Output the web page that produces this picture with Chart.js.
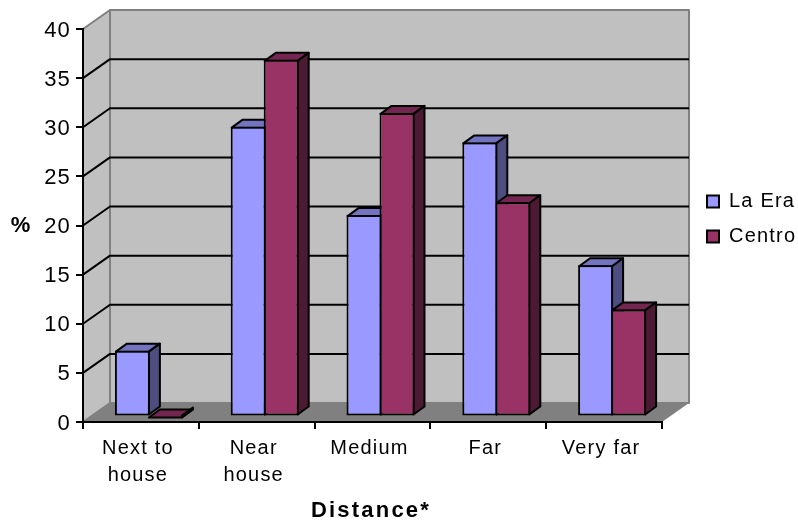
<!DOCTYPE html>
<html>
<head>
<meta charset="utf-8">
<style>
  html, body { margin: 0; padding: 0; background: #fff; }
  #wrap { width: 798px; height: 523px; }
</style>
<script src="https://cdn.jsdelivr.net/npm/chart.js@4"></script>
</head>
<body>
<div id="wrap"><canvas id="grafico"></canvas></div>
<script>
const categorias = [['Next to', 'house'], ['Near', 'house'], 'Medium', 'Far', 'Very far'];
const laEra = [6.7, 29.5, 20.5, 27.9, 15.4];
const centro = [0, 36.3, 30.9, 21.8, 10.9];

// profundidad de la caja 3D y de las barras
const fondo = { x: 27, y: -19 };
const desplazaBarra = { x: 8, y: -5.5 };
const prof = { x: 11, y: -8 };
const fuente = 'Liberation Sans';

function poligono(ctx, puntos, relleno, borde, grosor) {
    ctx.beginPath();
    puntos.forEach((p, i) => i ? ctx.lineTo(p[0], p[1]) : ctx.moveTo(p[0], p[1]));
    ctx.closePath();
    ctx.fillStyle = relleno;
    ctx.fill();
    if (borde) {
        ctx.strokeStyle = borde;
        ctx.lineWidth = grosor;
        ctx.stroke();
    }
}

function textoSuelto(ctx, texto, x, y, espacio) {
    ctx.save();
    ctx.font = 'bold 22px "' + fuente + '"';
    ctx.letterSpacing = espacio;
    ctx.fillStyle = '#000';
    ctx.textAlign = 'center';
    ctx.textBaseline = 'middle';
    ctx.fillText(texto, x, y);
    ctx.restore();
}

const caja3d = {
    id: 'caja3d',
    afterLayout(chart) {
        // la leyenda va a mano a la derecha de la caja (hay que mover tambien el clip)
        const l = chart.legend;
        l.left = 692;
        l.top = 176.5;
        l.right = 798;
        l.bottom = 270;
    },
    beforeDraw(chart) {
        const { ctx, chartArea: a, scales: { y } } = chart;
        const dx = fondo.x, dy = fondo.y;
        // el texto del original va algo espaciado
        ctx.letterSpacing = '1.2px';
        ctx.save();
        ctx.lineJoin = 'round';
        // pared izquierda, pared del fondo y suelo
        poligono(ctx, [[a.left, a.top], [a.left + dx, a.top + dy], [a.left + dx, a.bottom + dy], [a.left, a.bottom]], '#c0c0c0', '#808080', 2);
        poligono(ctx, [[a.left + dx, a.top + dy], [a.right + dx, a.top + dy], [a.right + dx, a.bottom + dy], [a.left + dx, a.bottom + dy]], '#c0c0c0', '#808080', 2);
        poligono(ctx, [[a.left, a.bottom], [a.left + dx, a.bottom + dy], [a.right + dx, a.bottom + dy], [a.right, a.bottom]], '#808080');
        // rejilla sobre las dos paredes
        ctx.strokeStyle = '#000';
        ctx.lineWidth = 2;
        y.ticks.forEach(t => {
            if (t.value === 0 || t.value === 40) return;
            const py = y.getPixelForValue(t.value);
            ctx.beginPath();
            ctx.moveTo(a.left, py);
            ctx.lineTo(a.left + dx, py + dy);
            ctx.lineTo(a.right + dx, py + dy);
            ctx.stroke();
        });
        ctx.restore();
    },
    beforeDatasetsDraw(chart) {
        const ctx = chart.ctx;
        ctx.save();
        ctx.translate(desplazaBarra.x, desplazaBarra.y);
        ctx.lineJoin = 'round';
        const tonos = [['#7373bf', '#4d4d80'], ['#732650', '#4d1a33']];
        chart.data.labels.forEach((_, i) => {
            [0, 1].forEach(d => {
                const b = chart.getDatasetMeta(d).data[i];
                const izq = b.x - b.width / 2 + 1, der = b.x + b.width / 2 - 1;
                const arriba = b.y + 1, abajo = b.base - 1;
                // tapa y cara lateral
                poligono(ctx, [[izq, arriba], [izq + prof.x, arriba + prof.y], [der + prof.x, arriba + prof.y], [der, arriba]], tonos[d][0], '#000', 2);
                poligono(ctx, [[der, arriba], [der + prof.x, arriba + prof.y], [der + prof.x, abajo + prof.y], [der, abajo]], tonos[d][1], '#000', 2);
            });
        });
    },
    afterDatasetsDraw(chart) {
        chart.ctx.restore();
    },
    afterDraw(chart) {
        textoSuelto(chart.ctx, '%', 21, 226, '1px');
        textoSuelto(chart.ctx, 'Distance*', 371, 511, '2.2px');
    }
};

new Chart(document.getElementById('grafico'), {
    type: 'bar',
    data: {
        labels: categorias,
        datasets: [
            { label: 'La Era', data: laEra, backgroundColor: '#9999ff', borderColor: '#000', borderWidth: 2, borderSkipped: false },
            { label: 'Centro', data: centro, backgroundColor: '#993366', borderColor: '#000', borderWidth: 2, borderSkipped: false }
        ]
    },
    options: {
        responsive: true,
        maintainAspectRatio: false,
        animation: false,
        layout: { padding: { top: 29, right: 136, left: 0, bottom: 0 } },
        datasets: { bar: { categoryPercentage: 0.57, barPercentage: 1.06 } },
        plugins: {
            tooltip: { enabled: false },
            legend: {
                position: 'chartArea',
                align: 'start',
                labels: {
                    color: '#000',
                    font: { family: fuente, size: 20 },
                    boxWidth: 12,
                    boxHeight: 12,
                    padding: 15
                }
            }
        },
        scales: {
            x: {
                afterFit: s => { s.height = 101; },
                grid: { drawOnChartArea: false, color: '#000', lineWidth: 2, tickLength: 7 },
                border: { color: '#000', width: 2 },
                ticks: {
                    color: '#000',
                    maxRotation: 0,
                    autoSkip: false,
                    padding: 6,
                    labelOffset: -3,
                    font: { family: fuente, size: 20, lineHeight: 1.35 }
                }
            },
            y: {
                min: 0,
                max: 40,
                afterFit: s => { s.width = 83; },
                grid: { drawOnChartArea: false, color: '#000', lineWidth: 2, tickLength: 7 },
                border: { color: '#000', width: 2 },
                ticks: {
                    stepSize: 5,
                    color: '#000',
                    padding: 5,
                    labelOffset: 1.5,
                    font: { family: fuente, size: 22 }
                }
            }
        }
    },
    plugins: [caja3d]
});
</script>
</body>
</html>
